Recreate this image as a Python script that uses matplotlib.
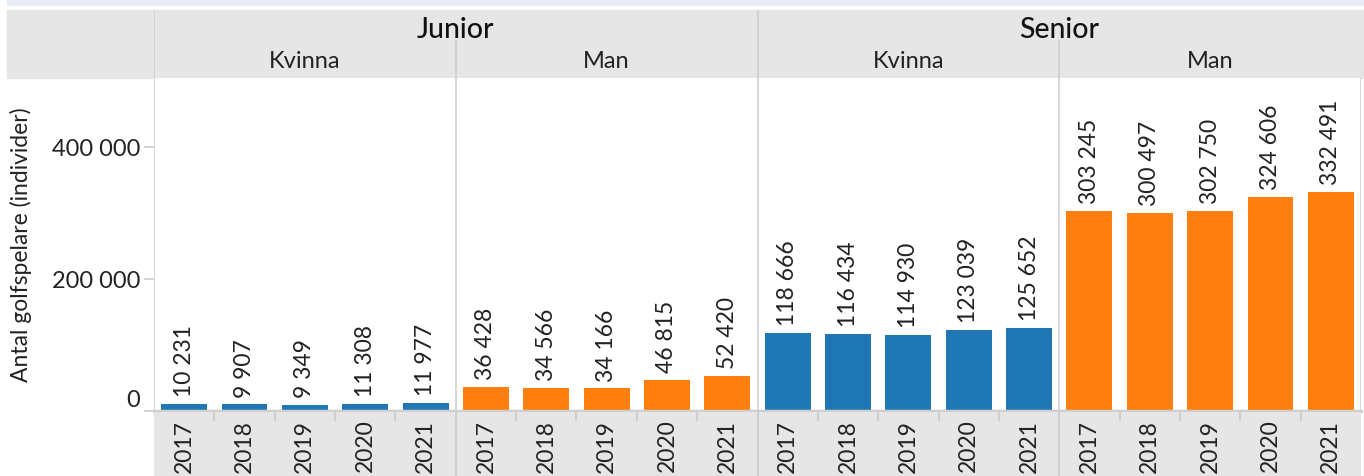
import matplotlib.pyplot as plt
from matplotlib.patches import Rectangle

# data
groups = ['Junior', 'Senior']
genders = ['Kvinna', 'Man']
years = ['2017', '2018', '2019', '2020', '2021']
junior_kvinna = [10231, 9907, 9349, 11308, 11977]
junior_man = [36428, 34566, 34166, 46815, 52420]
senior_kvinna = [118666, 116434, 114930, 123039, 125652]
senior_man = [303245, 300497, 302750, 324606, 332491]
yticks = [0, 200000, 400000]

panels = [junior_kvinna, junior_man, senior_kvinna, senior_man]
colors = {'Kvinna': '#1f77b4', 'Man': '#ff7f0e'}

plt.rcParams['font.family'] = ['Lato', 'DejaVu Sans']
txt = '#222222'
W, H = 1364, 476


def fmt(v):
    return f'{v:,}'.replace(',', ' ')


def rect(x0, y0, x1, y1):
    # pixel box (top-left origin) -> figure fraction
    return [x0 / W, 1 - y1 / H, (x1 - x0) / W, (y1 - y0) / H]


fig = plt.figure(figsize=(W / 100, H / 100), dpi=100)

# background bands
fig.patches.append(Rectangle((7 / W, 1 - 5 / H), 1, 5 / H, transform=fig.transFigure,
                             color='#e8edf3', zorder=-5))
fig.patches.append(Rectangle((7 / W, 1 - 78 / H), 1, 68 / H, transform=fig.transFigure,
                             color='#e6e6e6', zorder=-5))

ax = fig.add_axes(rect(154, 78, 1361, 411))
axh = fig.add_axes(rect(154, 10, 1361, 78))
axb = fig.add_axes(rect(154, 412, 1361, 476))

# bars
for p, vals in enumerate(panels):
    g = genders[p % 2]
    xs = [5 * p + j + 0.5 for j in range(len(years))]
    ax.bar(xs, vals, width=0.76, color=colors[g], zorder=2)
    for x, v in zip(xs, vals):
        ax.annotate(fmt(v), (x, v), xytext=(0, 5), textcoords='offset points',
                    rotation=90, ha='center', va='bottom', fontsize=16.5, color=txt)

ax.set_xlim(0, 20)
ax.set_ylim(0, 505000)
for s in ax.spines.values():
    s.set_visible(False)
for xv in [0, 5, 10, 15, 20]:
    ax.axvline(xv, color='#d9d9d9', lw=1.5, zorder=1)
ax.axhline(0, color='#cfcfcf', lw=2.5, zorder=3, clip_on=False)
ax.set_xticks([])
ax.set_yticks(yticks)
ax.set_yticklabels([fmt(v) for v in yticks], fontsize=17, color=txt)
ax.get_yticklabels()[0].set_va('bottom')
ax.tick_params(axis='y', length=7, width=1.2, color='#cfcfcf', pad=3)
ax.set_ylabel('Antal golfspelare (individer)', fontsize=16.5, color=txt)
ax.yaxis.set_label_coords((32 - 154) / 1207, 0.5)

# header
axh.set_xlim(0, 20)
axh.set_ylim(0, 1)
axh.axis('off')
for i, grp in enumerate(groups):
    axh.text(10 * i + 5, 0.7, grp, ha='center', va='center', fontsize=20.5,
             fontweight='medium', color='#111111')
    for k, g in enumerate(genders):
        axh.text(10 * i + 5 * k + 2.5, 0.25, g, ha='center', va='center',
                 fontsize=17, color=txt)
for xv in [0, 10]:
    axh.plot([xv, xv], [0, 1], color='#d2d2d2', lw=1.5)
for xv in [5, 15]:
    axh.plot([xv, xv], [0, 0.55], color='#d2d2d2', lw=1.5)

# bottom year band
axb.set_xlim(0, 20)
axb.set_ylim(0, 1)
axb.set_facecolor('#e6e6e6')
for s in axb.spines.values():
    s.set_visible(False)
axb.set_xticks([])
axb.set_yticks([])
for p in range(4):
    for j, yr in enumerate(years):
        axb.text(5 * p + j + 0.5, 0.88, yr, rotation=90, ha='center', va='top',
                 fontsize=16.5, color=txt)
for xv in range(1, 20):
    if xv % 5 == 0:
        axb.plot([xv, xv], [0, 1], color='#cfcfcf', lw=1.5)
    else:
        axb.plot([xv, xv], [0.88, 1], color='#cfcfcf', lw=1.5)

fig.savefig('out.png', dpi=100)
